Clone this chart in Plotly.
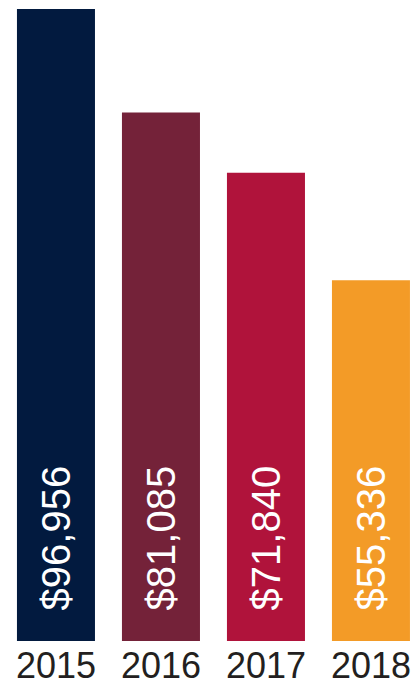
import plotly.graph_objects as go

years = [2015, 2016, 2017, 2018]
year_labels = ["2015", "2016", "2017", "2018"]
values = [96956, 81085, 71840, 55336]
colors = ["#021a3f", "#742239", "#b0133b", "#f39b27"]

LABEL_FONT = "Liberation Sans, Arial, Helvetica, sans-serif"
YEAR_FONT = "Liberation Sans, Arial, Helvetica, sans-serif"

fig = go.Figure()
fig.add_trace(go.Bar(
    x=years, y=values, width=0.743,
    marker=dict(color=colors, line=dict(width=0)),
    hoverinfo="skip",
))

for yr, v in zip(years, values):
    fig.add_annotation(
        x=yr, y=0, xref="x", yref="y",
        text=f"${v:,}", textangle=-90, showarrow=False,
        yanchor="bottom", xanchor="center", yshift=29,
        font=dict(family=LABEL_FONT, size=40, color="#ffffff"),
    )

fig.update_layout(
    width=416, height=689,
    margin=dict(l=0, r=0, t=0, b=48, pad=0),
    paper_bgcolor="#ffffff", plot_bgcolor="#ffffff",
    showlegend=False,
    xaxis=dict(
        range=[2014.467, 2018.429], tickvals=years, ticktext=year_labels,
        showgrid=False, zeroline=False, showline=False, ticks="",
        tickfont=dict(family=YEAR_FONT, size=36, color="#231f20"),
        fixedrange=True,
    ),
    yaxis=dict(
        range=[0, 98337], visible=False, showgrid=False, zeroline=False,
        fixedrange=True,
    ),
)

fig.write_html(
    "out.html",
    config={"displayModeBar": False},
    post_script="document.body.style.margin='0';document.body.style.overflow='hidden';",
)
